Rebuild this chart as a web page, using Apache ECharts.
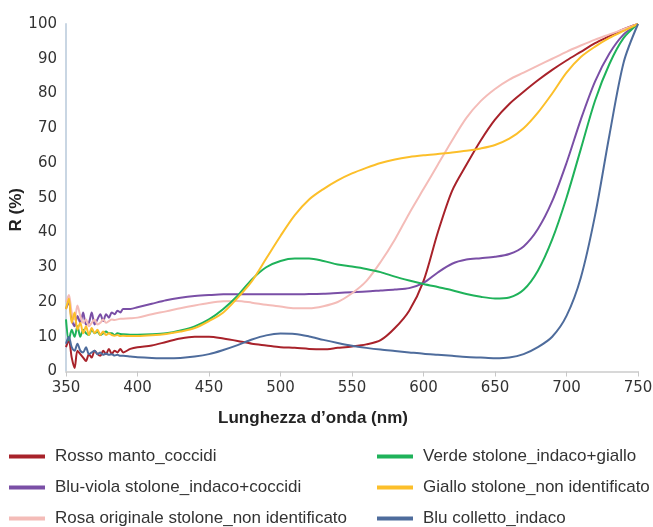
<!DOCTYPE html>
<html>
<head>
<meta charset="utf-8">
<script src="https://cdn.jsdelivr.net/npm/echarts@6/dist/echarts.min.js"></script>
<style>
html,body{margin:0;padding:0;background:#fff;}
#chart{width:653px;height:527px;}
</style>
</head>
<body>
<div id="chart"></div>
<script>
// Wavelengths (nm)
const wavelengths = [350,352,354,356,358,360,362,364,366,368,370,372,374,376,378,380,382,384,386,388,390,395,
  400,410,420,430,440,450,460,470,480,490,500,510,520,530,540,550,560,570,580,590,600,610,620,630,640,650,660,670,680,690,700,710,720,730,740,750];

const seriesNames = [
  "Rosso manto_coccidi",
  "Blu-viola stolone_indaco+coccidi",
  "Rosa originale stolone_non identificato",
  "Verde stolone_indaco+giallo",
  "Giallo stolone_non identificato",
  "Blu colletto_indaco"
];

const rosso = [7,9,4,1,6,5,4,3,5,4,6,5,4.5,6,5,6.5,5,6,5.5,6.5,5.5,6.5,
  7,7.5,8.5,9.5,10,10,9.5,8.8,8,7.5,7,6.8,6.5,6.4,6.8,7.2,7.8,9,12.5,17.5,26,40,52,59.5,66.5,72.5,77,80.5,83.8,86.8,89.5,92,94.5,96.5,98.5,100];

const bluViola = [18,20,15,13,16,14,17,13.5,14,17,13.5,15,16.5,14.5,16.5,15.5,17,16.5,17.5,17,18,18,
  18.5,19.5,20.5,21.2,21.7,22,22.2,22.2,22.2,22.2,22.2,22.2,22.3,22.4,22.6,22.8,23,23.3,23.6,24,25.5,28.5,31,32.2,32.6,33,33.8,36,41,49,60,72.5,83.5,91.5,97,100];

const rosa = [20,22,17,15,19,16,14,15,13,14,15,13.5,14,15,14,14.5,15,14.8,15,15.2,15.2,15.3,
  15.5,16.5,17.3,18.2,19,19.7,20.2,20.3,19.8,19.2,18.7,18.2,18.2,18.8,20,22.5,26,31.5,38,45.5,52.5,59.5,66.5,73,77.8,81.3,84,86,88,90,92,93.8,95.5,97,98.5,100];

const verde = [15,9,12,10,13,10,12,11,10.5,12,11,11.5,10.5,11,11.5,11,11,10.5,11,10.8,10.7,10.6,
  10.6,10.7,11,11.8,13,15,18,21.8,26.5,30,31.8,32.5,32.5,31.8,30.8,30.2,29.5,28.6,27.3,26.2,25.2,24.3,23.4,22.3,21.5,21,21.3,23.5,29,38,50,64,78,88.5,96,100];

const giallo = [18,21,14,17,12,14,11,13,10.5,12.5,11,12,10.5,11.5,10.5,11,10.5,10.3,10.5,10.2,10.3,10.2,
  10.2,10.4,10.8,11.5,12.5,14.5,17,21.2,26,32.5,39,45,49.5,52.5,55,57,58.6,60,61,61.7,62.2,62.6,63,63.5,64.2,65.2,67,70,74.5,80,86,90.5,93.5,96,98,100];

const blu = [8,10,7,6,8,6,5.5,7,5,5.5,6,5,5.5,4.8,5.2,4.8,5,4.6,4.8,4.5,4.5,4.3,
  4.1,3.9,3.8,3.9,4.3,5,6.2,7.6,9.2,10.4,10.9,10.8,10.1,9.1,8.2,7.4,6.8,6.3,5.9,5.5,5.1,4.8,4.5,4.2,4,3.8,4,5,7,10,16,27,45,68,89,100];

const xTicks = [350,400,450,500,550,600,650,700,750];
const yTicks = [0,10,20,30,40,50,60,70,80,90,100];

const colors = ["#a8222a","#7a4fa6","#f4bcb8","#1fb25a","#fcbf2a","#4e6c9c"];
const allValues = [rosso, bluViola, rosa, verde, giallo, blu];

const chart = echarts.init(document.getElementById('chart'), null, {renderer:'canvas'});

const series = seriesNames.map((name, i) => ({
  name: name,
  type: 'line',
  data: wavelengths.map((w, k) => [w, allValues[i][k]]),
  showSymbol: false,
  smooth: 0.3,
  lineStyle: {width: 2, color: colors[i]},
  itemStyle: {color: colors[i]},
  animation: false
}));

const sansFont = "'Liberation Sans', Arial, sans-serif";
const tickFont = "'DejaVu Sans', sans-serif";

const legendCommon = {
  orient: 'vertical',
  icon: 'rect',
  itemWidth: 36,
  itemHeight: 4,
  itemGap: 14,
  padding: 0,
  height: 80,
  textStyle: {fontFamily: sansFont, fontSize: 17, color: '#333', lineHeight: 16, padding: [0,0,0,5]},
  selectedMode: false
};

chart.setOption({
  animation: false,
  backgroundColor: '#fff',
  color: colors,
  grid: {left: 66, right: 15, top: 24, bottom: 155.5, containLabel: false, outerBoundsMode: 'none'},
  legend: [
    Object.assign({}, legendCommon, {left: 9, top: 448, data: seriesNames.slice(0,3)}),
    Object.assign({}, legendCommon, {left: 377, top: 448, data: seriesNames.slice(3,6)})
  ],
  xAxis: {
    type: 'value',
    min: xTicks[0], max: xTicks[xTicks.length-1], interval: 50,
    name: "Lunghezza d\u2019onda (nm)",
    nameLocation: 'middle',
    nameGap: 38,
    nameMoveOverlap: false,
    nameTextStyle: {fontFamily: sansFont, fontWeight: 'bold', fontSize: 17, color: '#222', padding: [0,78,0,0]},
    axisLine: {show: true, lineStyle: {color: '#d8d8d8', width: 2}},
    axisTick: {show: true, length: 5, lineStyle: {color: '#c8c8c8'}},
    axisLabel: {fontFamily: tickFont, fontSize: 15, color: '#333', margin: 9},
    splitLine: {show: false}
  },
  yAxis: {
    type: 'value',
    min: yTicks[0], max: yTicks[yTicks.length-1], interval: 10,
    name: 'R (%)',
    nameLocation: 'middle',
    nameGap: 41,
    nameRotate: 90,
    nameMoveOverlap: false,
    nameTextStyle: {fontFamily: sansFont, fontWeight: 'bold', fontSize: 17, color: '#222', padding: [0,24,0,0]},
    axisLine: {show: true, lineStyle: {color: '#c9d6e3', width: 2}},
    axisTick: {show: false},
    axisLabel: {fontFamily: tickFont, fontSize: 15, color: '#333', margin: 9},
    splitLine: {show: false}
  },
  series: series
});
</script>
</body>
</html>
